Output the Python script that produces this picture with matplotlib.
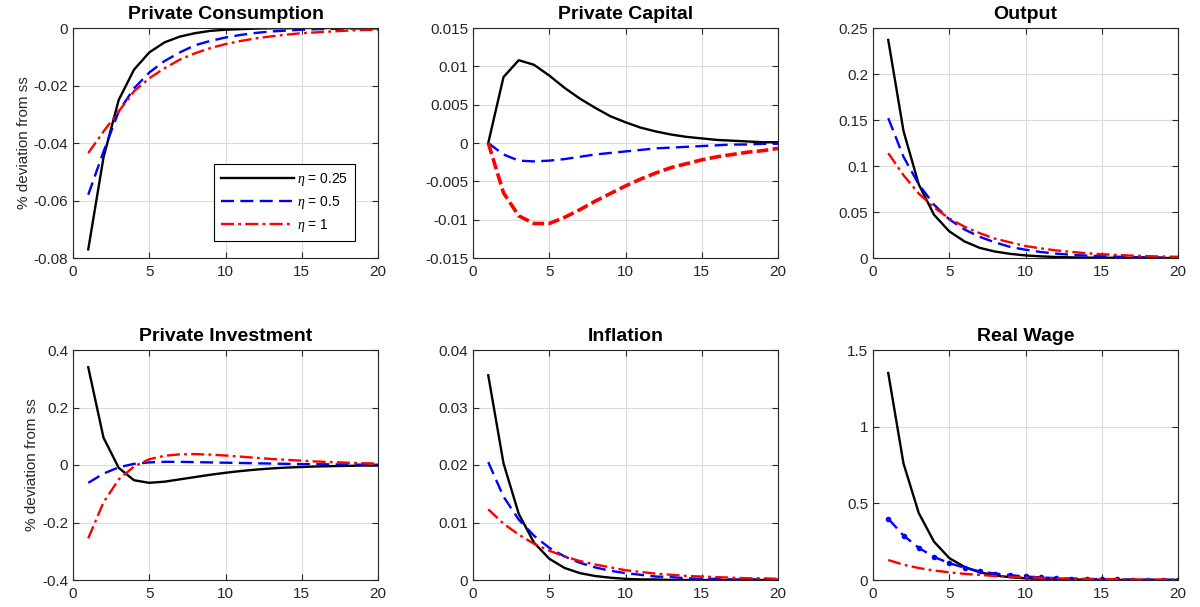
import numpy as np
import matplotlib
matplotlib.use("Agg")
import matplotlib.pyplot as plt

plt.rcParams['font.family'] = ['Liberation Sans', 'DejaVu Sans']
plt.rcParams['mathtext.fontset'] = 'custom'
plt.rcParams['mathtext.it'] = 'Liberation Serif:italic'

periods = np.arange(1, 21)
labels = [r'$\eta$ = 0.25', r'$\eta$ = 0.5', r'$\eta$ = 1']

cons_025 = [-0.077, -0.045, -0.025, -0.0145, -0.0085, -0.005, -0.003, -0.0018, -0.001, -0.0006,
            -0.0004, -0.0002, -0.0001, -0.0001, 0, 0, 0, 0, 0, 0]
cons_05 = [-0.058, -0.043, -0.029, -0.021, -0.0155, -0.0115, -0.0085, -0.006, -0.0045, -0.0033,
           -0.0024, -0.0017, -0.0012, -0.0009, -0.0006, -0.0004, -0.0003, -0.0002, -0.0001, -0.0001]
cons_1 = [-0.0435, -0.036, -0.029, -0.022, -0.0175, -0.014, -0.011, -0.0088, -0.007, -0.0056,
          -0.0045, -0.0036, -0.0029, -0.0023, -0.0018, -0.0015, -0.0012, -0.0009, -0.0007, -0.0006]

cap_025 = [0, 0.0086, 0.0108, 0.0102, 0.0088, 0.0072, 0.0058, 0.0046, 0.0035, 0.0027,
           0.002, 0.0015, 0.0011, 0.0008, 0.0006, 0.0004, 0.0003, 0.0002, 0.0001, 0.0001]
cap_05 = [0, -0.0015, -0.0023, -0.0024, -0.0023, -0.0021, -0.0018, -0.0015, -0.0013, -0.0011,
          -0.0009, -0.0007, -0.0006, -0.0005, -0.0004, -0.0003, -0.0002, -0.0002, -0.0001, -0.0001]
cap_1 = [0, -0.0065, -0.0095, -0.0105, -0.0105, -0.0097, -0.0087, -0.0076, -0.0066, -0.0056,
         -0.0047, -0.0039, -0.0032, -0.0027, -0.0022, -0.0018, -0.0015, -0.0012, -0.001, -0.0007]

out_025 = [0.237, 0.138, 0.08, 0.047, 0.029, 0.018, 0.011, 0.007, 0.0045, 0.0028,
           0.0018, 0.0011, 0.0007, 0.0004, 0.0003, 0.0002, 0.0001, 0.0001, 0, 0]
out_05 = [0.152, 0.11, 0.08, 0.058, 0.042, 0.031, 0.023, 0.017, 0.012, 0.009,
          0.0065, 0.0048, 0.0035, 0.0026, 0.0019, 0.0014, 0.001, 0.0007, 0.0005, 0.0004]
out_1 = [0.114, 0.09, 0.07, 0.055, 0.043, 0.034, 0.027, 0.021, 0.017, 0.013,
         0.0105, 0.0083, 0.0066, 0.0052, 0.0041, 0.0033, 0.0026, 0.002, 0.0016, 0.0013]

inv_025 = [0.34, 0.095, -0.01, -0.053, -0.062, -0.058, -0.05, -0.042, -0.034, -0.027,
           -0.021, -0.016, -0.012, -0.009, -0.007, -0.005, -0.004, -0.003, -0.002, -0.002]
inv_05 = [-0.062, -0.03, -0.008, 0.004, 0.009, 0.011, 0.011, 0.01, 0.009, 0.008,
          0.007, 0.006, 0.005, 0.004, 0.003, 0.003, 0.002, 0.002, 0.001, 0.001]
inv_1 = [-0.255, -0.13, -0.05, -0.005, 0.02, 0.032, 0.037, 0.038, 0.036, 0.033,
         0.029, 0.025, 0.021, 0.018, 0.015, 0.012, 0.01, 0.008, 0.006, 0.005]

infl_025 = [0.0356, 0.0203, 0.0115, 0.0065, 0.0037, 0.0021, 0.0012, 0.0007, 0.0004, 0.0002,
            0.0001, 0.0001, 0, 0, 0, 0, 0, 0, 0, 0]
infl_05 = [0.0205, 0.0145, 0.0105, 0.0077, 0.0056, 0.0041, 0.003, 0.0022, 0.0016, 0.0012,
           0.0009, 0.0006, 0.0005, 0.0003, 0.0002, 0.0002, 0.0001, 0.0001, 0.0001, 0]
infl_1 = [0.0123, 0.0098, 0.0079, 0.0063, 0.0051, 0.0041, 0.0033, 0.0027, 0.0022, 0.0017,
          0.0014, 0.0011, 0.0009, 0.0007, 0.0006, 0.0005, 0.0004, 0.0003, 0.0003, 0.0002]

wage_025 = [1.35, 0.76, 0.437, 0.25, 0.143, 0.085, 0.05, 0.03, 0.018, 0.011,
            0.007, 0.004, 0.003, 0.002, 0.001, 0.001, 0, 0, 0, 0]
wage_05 = [0.4, 0.29, 0.21, 0.15, 0.11, 0.08, 0.056, 0.042, 0.031, 0.023,
           0.017, 0.012, 0.009, 0.007, 0.005, 0.004, 0.003, 0.002, 0.002, 0.001]
wage_1 = [0.13, 0.1, 0.078, 0.062, 0.05, 0.04, 0.033, 0.026, 0.021, 0.017,
          0.014, 0.011, 0.009, 0.007, 0.006, 0.005, 0.004, 0.003, 0.003, 0.002]

panels = [
    ('Private Consumption', cons_025, cons_05, cons_1, (-0.08, 0), [-0.08, -0.06, -0.04, -0.02, 0],
     ['-0.08', '-0.06', '-0.04', '-0.02', '0']),
    ('Private Capital', cap_025, cap_05, cap_1, (-0.015, 0.015),
     [-0.015, -0.01, -0.005, 0, 0.005, 0.01, 0.015],
     ['-0.015', '-0.01', '-0.005', '0', '0.005', '0.01', '0.015']),
    ('Output', out_025, out_05, out_1, (0, 0.25), [0, 0.05, 0.1, 0.15, 0.2, 0.25],
     ['0', '0.05', '0.1', '0.15', '0.2', '0.25']),
    ('Private Investment', inv_025, inv_05, inv_1, (-0.4, 0.4), [-0.4, -0.2, 0, 0.2, 0.4],
     ['-0.4', '-0.2', '0', '0.2', '0.4']),
    ('Inflation', infl_025, infl_05, infl_1, (0, 0.04), [0, 0.01, 0.02, 0.03, 0.04],
     ['0', '0.01', '0.02', '0.03', '0.04']),
    ('Real Wage', wage_025, wage_05, wage_1, (0, 1.5), [0, 0.5, 1, 1.5],
     ['0', '0.5', '1', '1.5']),
]

fig = plt.figure(figsize=(12, 6.07), dpi=100)
W, H = 1200, 607
lefts = [73, 473, 873]
tops = [28, 350]
aw, ah = 305, 230

tick_color = '#262626'
for i, (title, a, b, c, ylim, yt, ytl) in enumerate(panels):
    r, col = divmod(i, 3)
    ax = fig.add_axes([lefts[col] / W, 1 - (tops[r] + ah) / H, aw / W, ah / H])
    ax.plot(periods, a, color='black', lw=1.7, label=labels[0])
    if title == 'Real Wage':
        ax.plot(periods, b, color='blue', lw=1.7, ls=(0, (5.5, 2.7)), marker='.', ms=6, label=labels[1])
    else:
        ax.plot(periods, b, color='blue', lw=1.7, ls=(0, (5.5, 2.7)), label=labels[1])
    if title == 'Private Capital':
        ax.plot(periods, c, color='red', lw=2.6, ls=(0, (3.2, 1.2)), label=labels[2])
    else:
        ax.plot(periods, c, color='red', lw=1.7, ls=(0, (5.5, 1.8, 1.2, 1.8)), label=labels[2])
    ax.set_xlim(0, 20)
    ax.set_xticks([0, 5, 10, 15, 20])
    ax.set_ylim(*ylim)
    ax.set_yticks(yt)
    ax.set_yticklabels(ytl)
    ax.grid(True, color='#dcdcdc', lw=0.8)
    ax.set_axisbelow(True)
    ax.tick_params(direction='in', top=True, right=True, labelsize=11, colors=tick_color,
                   length=4, width=0.8)
    ax.tick_params(axis='x', pad=5)
    for s in ax.spines.values():
        s.set_color(tick_color)
        s.set_linewidth(0.8)
    ax.set_title(title, fontsize=14, fontweight='bold', pad=6.5)
    if col == 0:
        ax.set_ylabel('% deviation from ss', fontsize=11, color=tick_color, labelpad=2)
    if i == 0:
        leg = ax.legend(loc='lower right', bbox_to_anchor=(0.948, 0.043), fontsize=10,
                        fancybox=False, edgecolor='black', framealpha=1,
                        handlelength=5.2, borderpad=0.5, labelspacing=0.45, handletextpad=0.25)
        leg.get_frame().set_linewidth(0.8)

fig.savefig('out.png', dpi=100)
